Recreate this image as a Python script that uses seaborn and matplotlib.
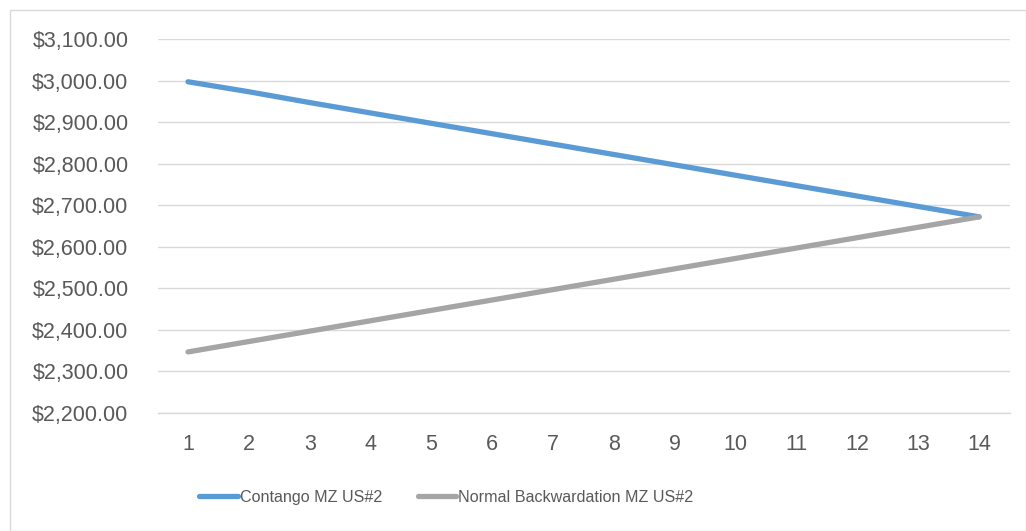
import matplotlib
matplotlib.use("Agg")
import matplotlib.pyplot as plt
import matplotlib.ticker as mticker
from matplotlib.patches import Rectangle
import seaborn as sns
import pandas as pd

# Futures curve by contract month
months = list(range(1, 15))
contango = [2997, 2973, 2947, 2922, 2897, 2872, 2847, 2822, 2797, 2772, 2747, 2722, 2697, 2672]
backwardation = [2347, 2372, 2397, 2422, 2447, 2472, 2497, 2522, 2547, 2572, 2597, 2622, 2647, 2672]
series_names = ["Contango MZ US#2", "Normal Backwardation MZ US#2"]
colors = ["#5B9BD5", "#A5A5A5"]

df = pd.DataFrame({
    "month": months * 2,
    "price": contango + backwardation,
    "series": [series_names[0]] * len(months) + [series_names[1]] * len(months),
})

sns.set_theme(style="white")
plt.rcParams["font.family"] = ["Liberation Sans", "DejaVu Sans"]
text_color = "#595959"

fig = plt.figure(figsize=(10.26, 5.31), dpi=100)
ax = fig.add_axes([0.1536, 0.2222, 0.8304, 0.7044])

sns.lineplot(data=df, x="month", y="price", hue="series", palette=colors,
             linewidth=3.8, ax=ax, legend=False,
             solid_capstyle="round", solid_joinstyle="round")

ax.set_xlim(0.5, 14.5)
ax.set_ylim(2200, 3100)
ax.set_xticks(months)
ax.yaxis.set_major_locator(mticker.MultipleLocator(100))
ax.yaxis.set_major_formatter(mticker.FuncFormatter(lambda v, p: f"${v:,.2f}"))
ax.grid(axis="y", color="#D9D9D9", linewidth=1.0)
ax.set_axisbelow(True)
for s in ["top", "right", "left"]:
    ax.spines[s].set_visible(False)
ax.spines["bottom"].set_color("#D9D9D9")
ax.spines["bottom"].set_linewidth(1.0)
ax.tick_params(axis="both", length=0, labelsize=15.5, colors=text_color)
ax.tick_params(axis="y", pad=21)
ax.tick_params(axis="x", pad=15)
ax.set_xlabel("")
ax.set_ylabel("")

handles = [plt.Line2D([0], [0], color=c, linewidth=3.8, solid_capstyle="round") for c in colors]
fig.legend(handles, series_names, loc="center", bbox_to_anchor=(0.435, 0.064),
           ncol=2, frameon=False, handlelength=2.4, handletextpad=0.1,
           columnspacing=2.2,
           prop={"size": 11.6},
           labelcolor=text_color)

fig.add_artist(Rectangle((9.5 / 1026, 0.0), 1 - 9.5 / 1026, 1 - 9.5 / 531,
                         transform=fig.transFigure, fill=False,
                         edgecolor="#D9D9D9", linewidth=1.0))

fig.savefig("out.png", dpi=100, facecolor="white")
